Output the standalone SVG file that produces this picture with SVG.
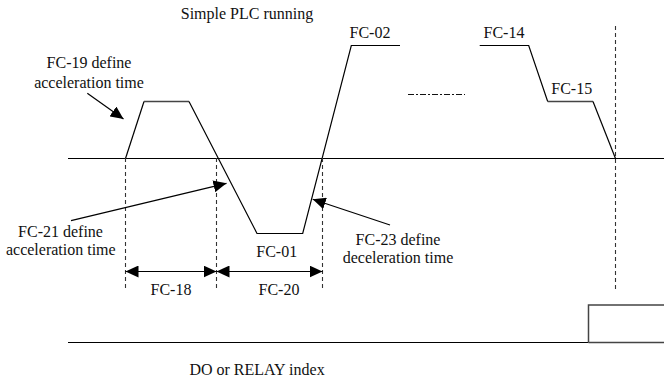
<svg xmlns="http://www.w3.org/2000/svg" width="664" height="379" viewBox="0 0 664 379">
<style>
.t{font-family:'Liberation Serif',serif;font-size:16px;fill:#111;text-anchor:middle}
.ln{fill:none;stroke:#000;stroke-width:1.2}
.gr{fill:none;stroke:#444;stroke-width:1.5}
.ds{fill:none;stroke:#333;stroke-width:1.1;stroke-dasharray:4 3}
.dd{fill:none;stroke:#111;stroke-width:1;stroke-dasharray:6 2 2 2}
.ar{fill:none;stroke:#000;stroke-width:1.2}
</style>
<defs>
<marker id="ah" markerUnits="userSpaceOnUse" markerWidth="14" markerHeight="12" refX="13" refY="6" orient="auto-start-reverse">
<path d="M0,0 L13,6 L0,12 Z" fill="#000"/>
</marker>
</defs>
<rect width="664" height="379" fill="#fff"/>
<g id="axes">
<line class="ln" x1="68" y1="158.5" x2="664" y2="158.5"/>
<line class="ln" x1="68" y1="342.5" x2="588.5" y2="342.5"/>
<path class="gr" d="M588.5,342.5 V305 H664"/>
<line class="gr" x1="588.5" y1="342.5" x2="664" y2="342.5"/>
</g>
<g id="curve">
<path class="ln" d="M125.5,158.5 L144,101.5"/>
<line class="gr" x1="144" y1="101.5" x2="189" y2="101.5"/>
<path class="ln" d="M189,101.5 L257,233.5 H302.7 L351.3,45.5 H400"/>
<path class="ln" d="M479.7,45.5 H528.7 L547.7,101.5"/>
<line class="gr" x1="547.7" y1="101.5" x2="593" y2="101.5"/>
<path class="ln" d="M593,101.5 L615.5,158.5"/>
<line class="dd" x1="408" y1="94.5" x2="465" y2="94.5"/>
</g>
<g id="guides">
<line class="ds" x1="125.5" y1="158" x2="125.5" y2="290"/>
<line class="ds" x1="216.5" y1="158" x2="216.5" y2="290"/>
<line class="ds" x1="322.5" y1="158" x2="322.5" y2="290"/>
<line class="ds" x1="615.5" y1="26" x2="615.5" y2="290"/>
</g>
<g id="connectors">
<line class="ar" x1="87.3" y1="93.3" x2="123.5" y2="119" marker-end="url(#ah)"/>
<line class="ar" x1="71" y1="220.7" x2="226.5" y2="183.3" marker-end="url(#ah)"/>
<line class="ar" x1="390" y1="225" x2="312.7" y2="199.3" marker-end="url(#ah)"/>
<line class="ar" x1="125.5" y1="271.5" x2="216.5" y2="271.5" marker-start="url(#ah)" marker-end="url(#ah)"/>
<line class="ar" x1="216.5" y1="271.5" x2="322.5" y2="271.5" marker-start="url(#ah)" marker-end="url(#ah)"/>
</g>
<g id="labels" class="t">
<text class="t" x="247" y="18.5">Simple PLC running</text>
<text class="t" x="89" y="68">FC-19 define</text>
<text class="t" x="89" y="87.5">acceleration time</text>
<text class="t" x="370" y="38">FC-02</text>
<text class="t" x="504" y="38">FC-14</text>
<text class="t" x="571.7" y="94.3">FC-15</text>
<text class="t" x="60.5" y="236.7">FC-21 define</text>
<text class="t" x="60.8" y="255">acceleration time</text>
<text class="t" x="276.7" y="256.7">FC-01</text>
<text class="t" x="171" y="295">FC-18</text>
<text class="t" x="279" y="295">FC-20</text>
<text class="t" x="398" y="245">FC-23 define</text>
<text class="t" x="398" y="263.3">deceleration time</text>
<text class="t" x="257" y="375">DO or RELAY index</text>
</g>
</svg>
